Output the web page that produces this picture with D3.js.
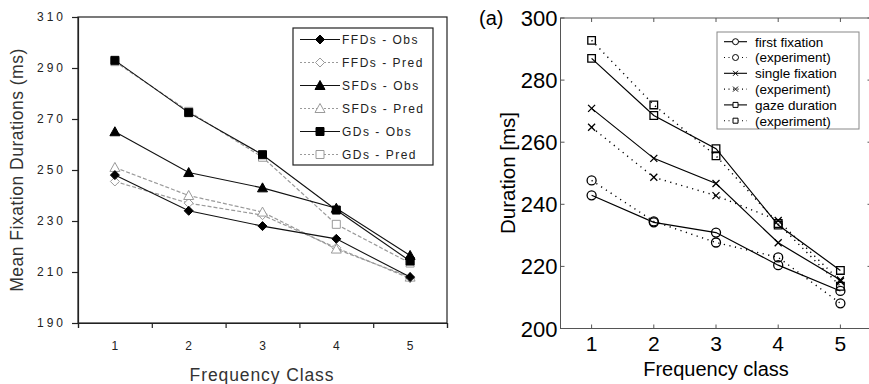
<!DOCTYPE html>
<html><head><meta charset="utf-8">
<script src="https://cdn.jsdelivr.net/npm/d3@7"></script>
<style>body{margin:0;background:#fff}svg{display:block}</style>
</head><body><svg id="c" width="869" height="384"></svg>
<script>
// ---------- data: left chart ----------
const leftClasses = ["1","2","3","4","5"];
const leftYTicks = [190,210,230,250,270,290,310];
const ffdObs  = [248,234,228,223,208];
const ffdPred = [245.5,237,232.3,219.5,207.5];
const sfdObs  = [265,249,243,235,216.5];
const sfdPred = [251,240,233.5,219,208];
const gdObs   = [293,272.5,256,234.3,214.3];
const gdPred  = [292.5,273,255,228.7,213.5];
const leftLabels = ["FFDs - Obs","FFDs - Pred","SFDs - Obs","SFDs - Pred","GDs - Obs","GDs - Pred"];

// ---------- data: right chart ----------
const rightClasses = [1,2,3,4,5];
const rightYTicks = [200,220,240,260,280,300];
const firstFixModel  = [242.9,234.2,230.9,220.4,212.1];
const firstFixExp    = [247.7,234.5,227.7,222.9,208.1];
const singleFixModel = [270.9,254.8,246.7,227.6,215.6];
const singleFixExp   = [264.8,248.7,242.8,234.8,215.2];
const gazeModel      = [287,268.6,257.9,233.3,218.7];
const gazeExp        = [292.8,272,255.6,233.8,213.6];
const rightLabels = ["first fixation","(experiment)","single fixation","(experiment)","gaze duration","(experiment)"];

const svg = d3.select("#c");

function shape(type, s){
  switch(type){
    case "diamond": return `M0,${-s}L${s},0L0,${s}L${-s},0Z`;
    case "triangle": return `M0,${-s}L${s},${s*0.8}L${-s},${s*0.8}Z`;
    case "square": return `M${-s},${-s}H${s}V${s}H${-s}Z`;
    case "circle": return d3.symbol(d3.symbolCircle, Math.PI*s*s)();
    case "x": return `M${-s},${-s}L${s},${s}M${s},${-s}L${-s},${s}`;
  }
}

// ================= LEFT CHART =================
const L = {left:78, right:447, top:17, bottom:323};
const xL = d3.scaleBand().domain(leftClasses).range([L.left, L.right]);
const yL = d3.scaleLinear().domain([190,310]).range([L.bottom, L.top]);
const gL = svg.append("g");

gL.append("rect").attr("x",L.left).attr("y",L.top).attr("width",L.right-L.left).attr("height",L.bottom-L.top)
  .attr("fill","none").attr("stroke","#222").attr("stroke-width",1.2);

const axL = gL.append("g").attr("transform",`translate(${L.left},0)`)
  .call(d3.axisLeft(yL).tickValues(leftYTicks).tickSize(6).tickPadding(9).tickFormat(d3.format("d")));
axL.select(".domain").attr("stroke","#222").attr("stroke-width",1.2);
axL.selectAll(".tick line").attr("stroke","#222").attr("stroke-width",1.2);
axL.selectAll(".tick text").attr("font-family","Liberation Sans, Arial").attr("font-size",12)
  .attr("fill","#222").style("letter-spacing","3px").attr("dx",3);

// x ticks at band boundaries
const xb = d3.scaleLinear().domain([0,5]).range([L.left, L.right]);
const axLB = gL.append("g").attr("transform",`translate(0,${L.bottom})`)
  .call(d3.axisBottom(xb).ticks(5).tickSize(5).tickFormat(""));
axLB.select(".domain").attr("stroke","#222").attr("stroke-width",1.2);
axLB.selectAll(".tick line").attr("stroke","#222").attr("stroke-width",1.2);
gL.append("g").selectAll("text").data(leftClasses).join("text")
  .attr("x", d=>xL(d)+xL.bandwidth()/2).attr("y", 350)
  .attr("text-anchor","middle").attr("font-family","Liberation Sans, Arial").attr("font-size",12)
  .attr("fill","#222").text(d=>d);

gL.append("text").attr("x",262).attr("y",381).attr("text-anchor","middle")
  .attr("font-family","Liberation Sans, Arial").attr("font-size",17.5).attr("fill","#333")
  .style("letter-spacing","0.9px").text("Frequency Class");
gL.append("text").attr("transform","translate(23,170) rotate(-90)").attr("text-anchor","middle")
  .attr("font-family","Liberation Sans, Arial").attr("font-size",17.5).attr("fill","#333")
  .style("letter-spacing","0.5px").text("Mean Fixation Durations (ms)");

const leftSeries = [
  {vals:ffdObs, sym:"diamond", size:4.5, obs:true},
  {vals:ffdPred, sym:"diamond", size:4.5, obs:false},
  {vals:sfdObs, sym:"triangle", size:5, obs:true},
  {vals:sfdPred, sym:"triangle", size:5, obs:false},
  {vals:gdObs, sym:"square", size:4, obs:true},
  {vals:gdPred, sym:"square", size:4, obs:false}
];
const lineL = d3.line().x((d,i)=>xL(leftClasses[i])+xL.bandwidth()/2).y(d=>yL(d));
[...leftSeries].sort((a,b)=>a.obs-b.obs).forEach(s=>{
  gL.append("path").attr("d",lineL(s.vals)).attr("fill","none")
    .attr("stroke", s.obs?"#111":"#9a9a9a").attr("stroke-width", s.obs?1.1:1.2)
    .attr("stroke-dasharray", s.obs?null:"4,2");
  gL.append("g").selectAll("path").data(s.vals).join("path")
    .attr("transform",(d,i)=>`translate(${xL(leftClasses[i])+xL.bandwidth()/2},${yL(d)})`)
    .attr("d", shape(s.sym, s.size))
    .attr("fill", s.obs?"#000":"#fff").attr("stroke", s.obs?"#000":"#9a9a9a").attr("stroke-width",1);
});

// legend left
const lgL = gL.append("g");
lgL.append("rect").attr("x",293).attr("y",28).attr("width",140).attr("height",137)
  .attr("fill","#fff").attr("stroke","#222").attr("stroke-width",1.2);
leftSeries.forEach((s,i)=>{
  const y = 39.5 + i*23;
  lgL.append("line").attr("x1",300).attr("x2",340).attr("y1",y).attr("y2",y)
    .attr("stroke", s.obs?"#111":"#9a9a9a").attr("stroke-width",1.1)
    .attr("stroke-dasharray", s.obs?null:"2,2");
  lgL.append("path").attr("transform",`translate(320,${y})`).attr("d",shape(s.sym,s.size))
    .attr("fill", s.obs?"#000":"#fff").attr("stroke", s.obs?"#000":"#9a9a9a");
  lgL.append("text").attr("x",342).attr("y",y+4.5).attr("font-family","Liberation Sans, Arial")
    .attr("font-size",12).attr("fill","#222").style("letter-spacing","1.5px").text(leftLabels[i]);
});

// ================= RIGHT CHART =================
const R = {left:560.5, right:871.5, top:18, bottom:328.5};
const xR = d3.scaleLinear().domain([0.5,5.5]).range([R.left, R.right]);
const yR = d3.scaleLinear().domain([200,300]).range([R.bottom, R.top]);
const gR = svg.append("g");
const axisColor = "#555";

gR.append("rect").attr("x",R.left).attr("y",R.top).attr("width",R.right-R.left).attr("height",R.bottom-R.top)
  .attr("fill","none").attr("stroke",axisColor).attr("stroke-width",1);
const tk = 4;
gR.append("g").selectAll("line").data(rightClasses).join("line")
  .attr("x1",d=>xR(d)).attr("x2",d=>xR(d)).attr("y1",R.bottom).attr("y2",R.bottom-tk).attr("stroke",axisColor);
gR.append("g").selectAll("line").data(rightClasses).join("line")
  .attr("x1",d=>xR(d)).attr("x2",d=>xR(d)).attr("y1",R.top).attr("y2",R.top+tk).attr("stroke",axisColor);
gR.append("g").selectAll("line").data(rightYTicks).join("line")
  .attr("x1",R.left).attr("x2",R.left+tk).attr("y1",d=>yR(d)).attr("y2",d=>yR(d)).attr("stroke",axisColor);
gR.append("g").selectAll("line").data(rightYTicks).join("line")
  .attr("x1",R.right).attr("x2",R.right-tk).attr("y1",d=>yR(d)).attr("y2",d=>yR(d)).attr("stroke",axisColor);

gR.append("g").selectAll("text").data(rightYTicks).join("text")
  .attr("x",R.left-3).attr("y",d=>yR(d)+8).attr("text-anchor","end")
  .attr("font-family","Liberation Sans, Arial").attr("font-size",22).attr("fill","#000").text(d=>d);
gR.append("g").selectAll("text").data(rightClasses).join("text")
  .attr("x",d=>xR(d)).attr("y",351).attr("text-anchor","middle")
  .attr("font-family","Liberation Sans, Arial").attr("font-size",21).attr("fill","#000").text(d=>d);
gR.append("text").attr("x",716).attr("y",375.5).attr("text-anchor","middle")
  .attr("font-family","Liberation Sans, Arial").attr("font-size",20).attr("fill","#000").text("Frequency class");
gR.append("text").attr("transform","translate(515,173) rotate(-90)").attr("text-anchor","middle")
  .attr("font-family","Liberation Sans, Arial").attr("font-size",20.5).attr("fill","#000").text("Duration [ms]");
gR.append("text").attr("x",479).attr("y",25).attr("font-family","Liberation Sans, Arial")
  .attr("font-size",20).attr("fill","#000").text("(a)");

const rightSeries = [
  {vals:firstFixModel, sym:"circle", size:4.5, lsize:3, solid:true},
  {vals:firstFixExp, sym:"circle", size:4.5, lsize:3, solid:false},
  {vals:singleFixModel, sym:"x", size:3.5, lsize:2.5, solid:true},
  {vals:singleFixExp, sym:"x", size:3.5, lsize:2.5, solid:false},
  {vals:gazeModel, sym:"square", size:3.8, lsize:2.5, solid:true},
  {vals:gazeExp, sym:"square", size:3.8, lsize:2.5, solid:false}
];
const lineR = d3.line().x((d,i)=>xR(rightClasses[i])).y(d=>yR(d));
rightSeries.forEach(s=>{
  gR.append("path").attr("d",lineR(s.vals)).attr("fill","none").attr("stroke","#000")
    .attr("stroke-width", s.solid?1.2:1.4).attr("stroke-dasharray", s.solid?null:"1.2,4.5");
  gR.append("g").selectAll("path").data(s.vals).join("path")
    .attr("transform",(d,i)=>`translate(${xR(rightClasses[i])},${yR(d)})`)
    .attr("d", shape(s.sym, s.size)).attr("fill","none").attr("stroke","#000").attr("stroke-width",1.3);
});

// legend right
const lgR = gR.append("g");
lgR.append("rect").attr("x",717).attr("y",32).attr("width",142).attr("height",97)
  .attr("fill","#fff").attr("stroke","#888").attr("stroke-width",1);
rightSeries.forEach((s,i)=>{
  const y = 41.7 + i*15.8;
  lgR.append("line").attr("x1",724).attr("x2",747).attr("y1",y).attr("y2",y)
    .attr("stroke","#000").attr("stroke-width",1.1).attr("stroke-dasharray", s.solid?null:"1,3.5");
  lgR.append("path").attr("transform",`translate(735.5,${y})`).attr("d",shape(s.sym,s.lsize))
    .attr("fill","#fff").attr("stroke","#000").attr("stroke-width",1);
  lgR.append("text").attr("x",755).attr("y",y+4.8).attr("font-family","Liberation Sans, Arial")
    .attr("font-size",13.5).attr("fill","#000").text(rightLabels[i]);
});
</script></body></html>
